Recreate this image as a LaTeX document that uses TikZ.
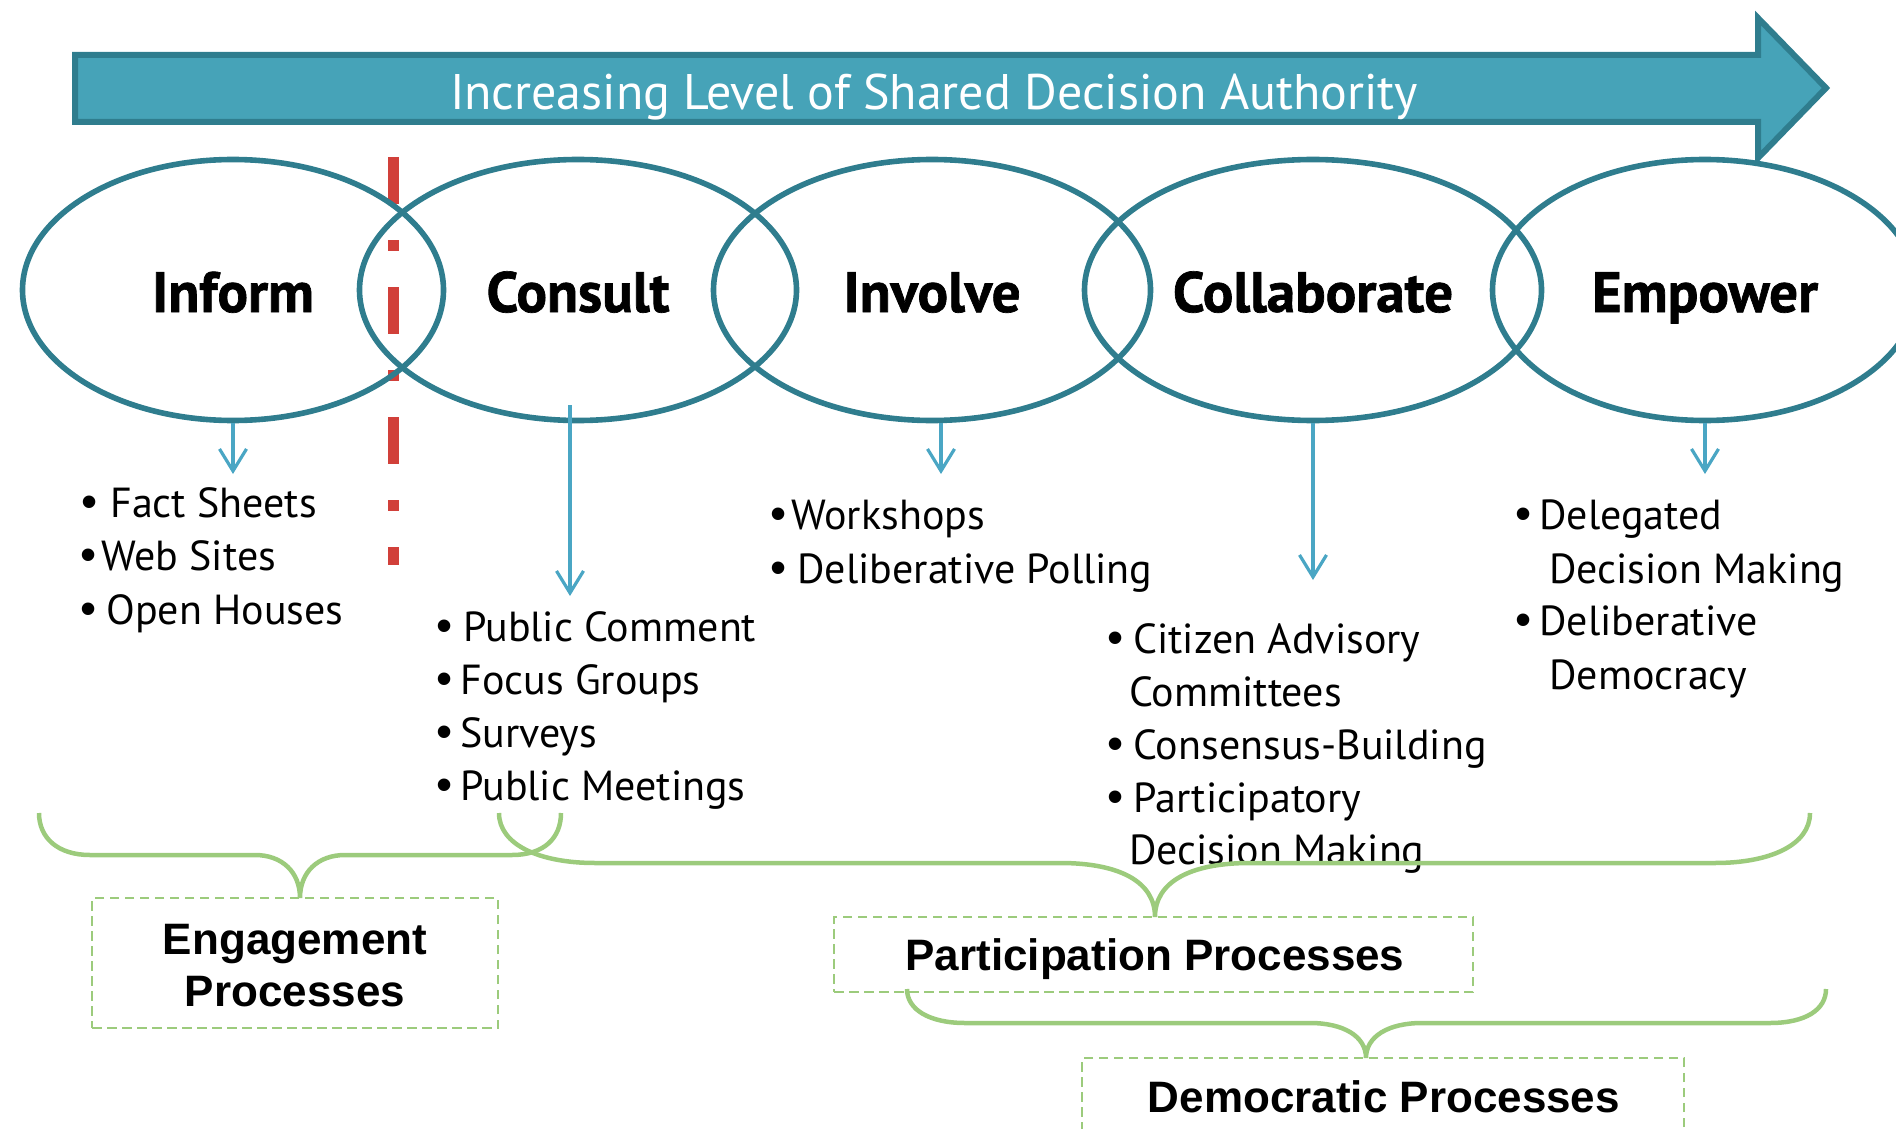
\documentclass[tikz,border=0pt]{standalone}
\usepackage{fontspec}
\setmainfont{PT Sans}
\newfontfamily\boxfont{Liberation Sans}
\newfontfamily\stagefont{PT Sans}[BoldFeatures={FakeBold=1.2}]
\usetikzlibrary{shapes.geometric,arrows.meta}
\definecolor{teal1}{HTML}{46A3B8}
\definecolor{teal2}{HTML}{2F7D8E}
\definecolor{redd}{HTML}{D1403A}
\definecolor{blu}{HTML}{4AA6C4}
\definecolor{grn}{HTML}{9CCB7C}
\newcommand\bl[1]{\llap{\makebox[#1][l]{\boxfont\fontsize{23}{24}\selectfont •}}}
\begin{document}
\begin{tikzpicture}[x=0.5pt,y=-0.5pt,
 stage/.style={ellipse, draw=teal2, line width=2.8pt, inner sep=0pt, font=\stagefont\fontsize{28.5}{30}\selectfont\bfseries, text height=22pt, text depth=0pt},
 li/.style={anchor=base west, inner sep=0pt, font=\fontsize{21}{24}\selectfont},
 barrow/.style={draw=blu, line width=1.6pt, -{Straight Barb[length=11pt,width=13.5pt]}},
 brace/.style={draw=grn, line width=2.25pt},
 pbox/.style={draw=grn, line width=1pt, dash pattern=on 4.75pt off 2.75pt, inner sep=0pt},
 ptext/.style={font=\boxfont\fontsize{22}{26}\selectfont\bfseries, align=center, inner sep=0pt},
]
\useasboundingbox (0,0) rectangle (1896,1129);
% big arrow
\filldraw[fill=teal1, draw=teal2, line width=3pt, line join=miter]
  (75,55) -- (1758,55) -- (1758,18) -- (1826,88) -- (1758,158) -- (1758,122) -- (75,122) -- cycle;
\node[font=\fontsize{25}{30}\selectfont, text=white, anchor=base, inner sep=0pt] (title) at (934,110) {Increasing Level of Shared Decision Authority};
% red divider
\coordinate (r1) at (393,157); \coordinate (r2) at (393,565);
\draw[redd, line width=5.5pt, dash pattern=on 23.5pt off 18pt on 5.5pt off 18pt] (r1) -- (r2);
% stages
\node[stage, minimum width=210.5pt, minimum height=130.5pt] (inform) at (233,290) {Inform};
\node[stage, minimum width=218.5pt, minimum height=130.5pt] (consult) at (578,290) {Consult};
\node[stage, minimum width=218.5pt, minimum height=130.5pt] (involve) at (932,290) {Involve};
\node[stage, minimum width=228.5pt, minimum height=130.5pt] (collab) at (1313,290) {Collaborate};
\node[stage, minimum width=212.5pt, minimum height=130.5pt] (empower) at (1705,290) {Empower};
% arrows
\coordinate (ia) at (233,474);
\draw[barrow] (inform.south) -- (ia);
\coordinate (cs) at (570,405); \coordinate (ca) at (570,596);
\draw[barrow] (cs) -- (ca);
\coordinate (vs) at (941,423); \coordinate (va) at (941,474);
\draw[barrow] (vs) -- (va);
\coordinate (la) at (1313,580);
\draw[barrow] (collab.south) -- (la);
\coordinate (ea) at (1705,474);
\draw[barrow] (empower.south) -- (ea);
% lists
\node[li] (fs) at (110,517) {\bl{14.5pt}Fact Sheets};
\node[li] (ws) at (101,570) {\bl{10.5pt}Web Sites};
\node[li] (oh) at (106,624) {\bl{13pt}Open Houses};
\node[li] (pc) at (463,641) {\bl{13.5pt}Public Comment};
\node[li] (fg) at (460,694) {\bl{12pt}Focus Groups};
\node[li] (sv) at (460,747) {\bl{12pt}Surveys};
\node[li] (pm) at (460,800) {\bl{12pt}Public Meetings};
\node[li] (wk) at (791,529) {\bl{10.5pt}Workshops};
\node[li] (dp) at (797,583) {\bl{13.5pt}Deliberative Polling};
\node[li] (ca1) at (1133,653) {\bl{13pt}Citizen Advisory};
\node[li] (ca2) at (1129,706) {Committees};
\node[li] (cb) at (1133,759) {\bl{13pt}Consensus-Building};
\node[li] (pd1) at (1133,812) {\bl{13pt}Participatory};
\node[li] (pd2) at (1129,864) {Decision Making};
\node[li] (dd1) at (1539,529) {\bl{12pt}Delegated};
\node[li] (dd2) at (1549,583) {Decision Making};
\node[li] (de1) at (1539,635) {\bl{12pt}Deliberative};
\node[li] (de2) at (1549,689) {Democracy};
% boxes
\node[pbox, minimum width=203pt, minimum height=65pt] (eng) at (295,963) {};
\node[ptext] (engtxt) at (295,966) {Engagement\\Processes};
\node[pbox, minimum width=319.5pt, minimum height=37.5pt] (par) at (1153.5,954.5) {};
\node[ptext, anchor=base] (partxt) at (1155,970) {Participation Processes};
\node[pbox, minimum width=301pt, minimum height=41pt] (dem) at (1383,1099) {};
\node[ptext, anchor=base] (demtxt) at (1384,1112) {Democratic Processes};
% braces
\draw[brace] (39,813) .. controls (39,838) and (58,855) .. (90,855) -- (255,855)
  .. controls (282,855) and (300,872) .. (300,898)
  .. controls (300,872) and (318,855) .. (345,855) -- (512,855)
  .. controls (544,855) and (561,838) .. (561,813);
\draw[brace] (499,813) .. controls (499,845) and (540,863) .. (595,863) -- (1060,863)
  .. controls (1120,863) and (1155,882) .. (1155,917)
  .. controls (1155,882) and (1190,863) .. (1250,863) -- (1715,863)
  .. controls (1770,863) and (1810,845) .. (1810,813);
\draw[brace] (907,989) .. controls (907,1010) and (930,1023) .. (965,1023) -- (1310,1023)
  .. controls (1343,1023) and (1366,1036) .. (1366,1058)
  .. controls (1366,1036) and (1389,1023) .. (1422,1023) -- (1770,1023)
  .. controls (1805,1023) and (1826,1010) .. (1826,989);
\end{tikzpicture}
\end{document}
